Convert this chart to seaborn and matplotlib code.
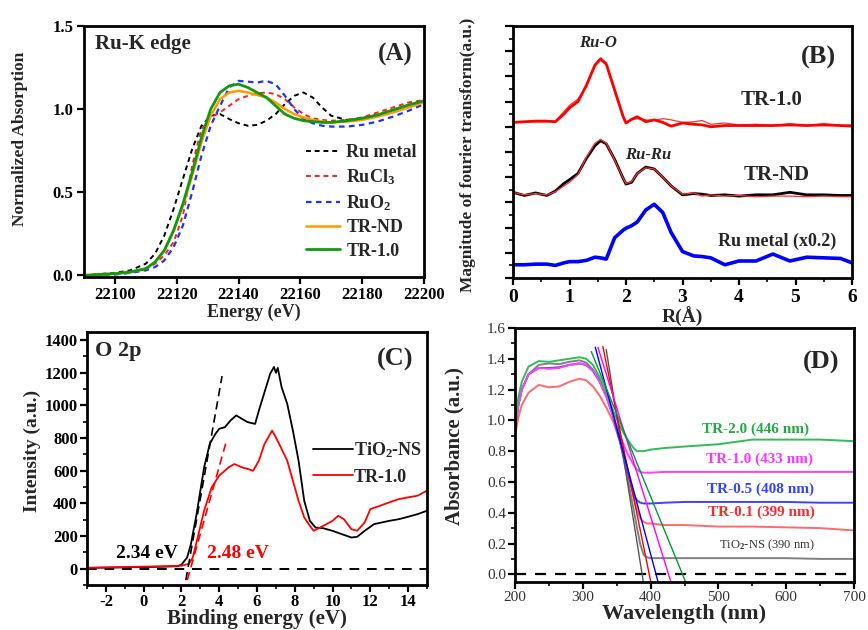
import numpy as np
import matplotlib
matplotlib.use("Agg")
import matplotlib.pyplot as plt
import seaborn as sns
from matplotlib.ticker import MultipleLocator, NullFormatter

# ---------------- (A) Ru K-edge XANES ----------------
energy = [22090, 22100, 22105, 22110, 22113, 22116, 22119, 22122, 22125, 22128,
          22131, 22134, 22137, 22140, 22143, 22146, 22149, 22152, 22155, 22158,
          22161, 22164, 22167, 22170, 22175, 22180, 22185, 22190, 22195, 22200]
ru_metal = [0.0, 0.015, 0.03, 0.07, 0.13, 0.24, 0.4, 0.58, 0.76, 0.9,
            0.96, 0.97, 0.94, 0.915, 0.9, 0.905, 0.93, 0.97, 1.03, 1.08,
            1.1, 1.07, 1.01, 0.96, 0.935, 0.945, 0.965, 0.995, 1.025, 1.05]
rucl3 = [0.0, 0.01, 0.02, 0.04, 0.07, 0.12, 0.2, 0.36, 0.66, 0.88,
         0.95, 0.98, 1.02, 1.06, 1.08, 1.095, 1.1, 1.09, 1.06, 1.01,
         0.97, 0.945, 0.935, 0.93, 0.935, 0.95, 0.98, 1.01, 1.04, 1.055]
ruo2 = [0.0, 0.005, 0.015, 0.03, 0.05, 0.09, 0.17, 0.3, 0.5, 0.72,
        0.9, 1.02, 1.13, 1.17, 1.165, 1.16, 1.17, 1.15, 1.08, 1.0,
        0.94, 0.915, 0.9, 0.895, 0.895, 0.905, 0.925, 0.955, 0.99, 1.03]
tr_nd = [0.0, 0.01, 0.02, 0.04, 0.08, 0.15, 0.27, 0.42, 0.6, 0.8,
         0.96, 1.06, 1.1, 1.11, 1.1, 1.085, 1.07, 1.04, 1.0, 0.97,
         0.95, 0.935, 0.925, 0.92, 0.925, 0.935, 0.955, 0.98, 1.01, 1.04]
tr_10 = [0.0, 0.01, 0.02, 0.04, 0.08, 0.15, 0.27, 0.43, 0.62, 0.83,
         1.0, 1.1, 1.14, 1.15, 1.13, 1.1, 1.07, 1.02, 0.97, 0.945,
         0.93, 0.925, 0.92, 0.92, 0.93, 0.945, 0.965, 0.995, 1.025, 1.05]

# ---------------- (B) EXAFS FT ----------------
r_dist = [0, 0.2, 0.4, 0.6, 0.75, 0.9, 1.0, 1.15, 1.3, 1.45, 1.55, 1.65, 1.8, 1.95,
          2.0, 2.1, 2.2, 2.35, 2.5, 2.65, 2.8, 3.0, 3.2, 3.35, 3.5, 3.75, 4.0, 4.3,
          4.6, 4.9, 5.2, 5.5, 5.8, 6.0]
ft_tr10 = [12.35, 12.4, 12.45, 12.45, 12.4, 13.0, 13.5, 14.0, 15.3, 16.9, 17.4, 17.0, 14.9, 12.8,
           12.3, 12.6, 12.8, 12.4, 12.55, 12.35, 12.05, 12.3, 12.2, 12.15, 12.0, 12.1, 12.1, 12.1,
           12.1, 12.15, 12.1, 12.15, 12.1, 12.05]
fit_tr10 = [12.35, 12.4, 12.4, 12.4, 12.45, 13.2, 13.7, 14.2, 15.2, 16.8, 17.3, 16.9, 14.8, 12.75,
            12.4, 12.55, 12.65, 12.55, 12.5, 12.65, 12.55, 12.35, 12.4, 12.5, 12.2, 12.3, 12.15, 12.2,
            12.1, 12.25, 12.1, 12.25, 12.1, 12.15]
ft_trnd = [6.8, 6.55, 6.75, 6.55, 6.9, 7.5, 7.8, 8.3, 9.5, 10.5, 10.9, 10.65, 9.4, 7.9,
           7.45, 7.6, 8.3, 8.8, 8.65, 8.0, 7.3, 6.6, 6.7, 6.65, 6.55, 6.6, 6.5, 6.6,
           6.6, 6.8, 6.6, 6.6, 6.55, 6.55]
fit_trnd = [6.8, 6.6, 6.7, 6.6, 6.85, 7.3, 7.6, 8.2, 9.6, 10.7, 11.0, 10.7, 9.35, 7.9,
            7.5, 7.65, 8.3, 8.75, 8.65, 8.0, 7.3, 6.65, 6.75, 6.5, 6.6, 6.5, 6.55, 6.45,
            6.5, 6.5, 6.45, 6.5, 6.45, 6.45]
ft_rumetal = [1.05, 1.05, 1.1, 1.1, 1.0, 1.2, 1.3, 1.3, 1.4, 1.65, 1.6, 1.5, 3.2, 3.8,
              3.95, 4.15, 4.45, 5.4, 5.85, 5.2, 3.6, 2.1, 1.75, 1.7, 1.6, 1.05, 1.35, 1.35,
              1.9, 1.35, 1.65, 1.6, 1.55, 1.2]

# ---------------- (C) O 2p valence band ----------------
be_tio2 = [-3, -1, 1, 1.8, 2.0, 2.3, 2.5, 2.8, 3.2, 3.5, 3.8, 4.0, 4.3, 4.6, 4.9, 5.2, 5.5,
           5.9, 6.1, 6.4, 6.7, 6.9, 7.0, 7.1, 7.3, 7.6, 7.9, 8.2, 8.5, 8.8, 9.1, 9.5, 10.0,
           10.5, 11.0, 11.3, 11.7, 12.2, 13.0, 13.5, 14.0, 14.5, 15.0]
int_tio2 = [5, 8, 12, 15, 25, 68, 150, 334, 620, 765, 826, 857, 867, 908, 939, 918, 898,
            887, 969, 1082, 1195, 1236, 1200, 1230, 1113, 1010, 846, 662, 416, 293, 252, 248, 232,
            211, 191, 195, 232, 273, 293, 303, 318, 334, 355]
be_tr10 = [-3, -1, 1, 2.0, 2.4, 2.6, 2.9, 3.2, 3.6, 4.0, 4.5, 4.8, 5.2, 5.5, 5.8, 6.1, 6.4,
           6.8, 7.0, 7.3, 7.6, 7.9, 8.2, 8.5, 8.8, 9.0, 9.5, 10.0, 10.3, 10.6, 11.0, 11.3,
           11.7, 12.0, 12.5, 13.0, 13.5, 14.0, 14.5, 15.0]
int_tr10 = [5, 10, 15, 18, 30, 68, 211, 355, 498, 570, 621, 641, 621, 611, 600, 662, 765,
            846, 805, 734, 662, 539, 416, 314, 262, 232, 262, 293, 324, 303, 242, 232,
            283, 365, 385, 406, 426, 437, 447, 478]
vb_onset = [2.34, 2.48]
vb_tangent_x = [4.15, 4.4]
vb_tangent_y = [1180, 790]

# ---------------- (D) UV-vis ----------------
wavelength = [200, 205, 210, 220, 235, 250, 265, 280, 295, 305, 315, 325, 335, 345, 355,
              365, 375, 380, 385, 390, 395, 400, 420, 450, 500, 550, 600, 650, 700]
abs_tio2 = [0.95, 1.1, 1.2, 1.3, 1.36, 1.37, 1.365, 1.38, 1.39, 1.375, 1.33, 1.26, 1.16, 1.03, 0.86,
            0.65, 0.42, 0.3, 0.19, 0.125, 0.11, 0.105, 0.105, 0.105, 0.105, 0.105, 0.105, 0.1, 0.1]
abs_tr01 = [0.9, 1.02, 1.1, 1.18, 1.23, 1.215, 1.22, 1.25, 1.27, 1.26, 1.22, 1.16, 1.08, 0.99, 0.86,
            0.69, 0.5, 0.42, 0.36, 0.34, 0.33, 0.33, 0.32, 0.32, 0.31, 0.31, 0.305, 0.3, 0.285]
abs_tr05 = [0.95, 1.1, 1.2, 1.3, 1.34, 1.34, 1.345, 1.36, 1.37, 1.36, 1.32, 1.25, 1.15, 1.02, 0.86,
            0.68, 0.52, 0.48, 0.465, 0.46, 0.46, 0.46, 0.465, 0.47, 0.47, 0.47, 0.47, 0.465, 0.465]
abs_tr10 = [0.95, 1.1, 1.2, 1.3, 1.34, 1.335, 1.34, 1.36, 1.37, 1.36, 1.32, 1.25, 1.15, 1.03, 0.9,
            0.79, 0.71, 0.68, 0.665, 0.66, 0.66, 0.66, 0.665, 0.665, 0.665, 0.665, 0.665, 0.665, 0.665]
abs_tr20 = [0.97, 1.15, 1.25, 1.35, 1.385, 1.38, 1.39, 1.4, 1.41, 1.4, 1.36, 1.28, 1.18, 1.06, 0.96,
            0.88, 0.82, 0.8, 0.8, 0.8, 0.805, 0.81, 0.82, 0.83, 0.845, 0.875, 0.875, 0.875, 0.865]
uv_labels = ["TiO$_2$-NS (390 nm)", "TR-0.1 (399 nm)", "TR-0.5 (408 nm)",
             "TR-1.0 (433 nm)", "TR-2.0 (446 nm)"]
uv_edge = [387.5, 398, 408, 426.5, 447]
uv_top_x = [334.5, 329.6, 318.4, 322.3, 312.5]
uv_top_y = [1.46, 1.48, 1.475, 1.475, 1.447]
label_x = [572, 564, 562, 560, 554]
label_y = [0.19, 0.40, 0.55, 0.75, 0.945]

# ---------------- style ----------------
sns.set_style("ticks")
plt.rcParams['font.family'] = ['Liberation Serif', 'DejaVu Serif']
plt.rcParams['font.weight'] = 'bold'
plt.rcParams['axes.labelweight'] = 'bold'
plt.rcParams['axes.unicode_minus'] = False
plt.rcParams['mathtext.fontset'] = 'custom'
plt.rcParams['mathtext.rm'] = 'Liberation Serif:bold'
plt.rcParams['mathtext.it'] = 'Liberation Serif:italic:bold'
plt.rcParams['mathtext.bf'] = 'Liberation Serif:bold'

W, H = 868, 630
fig = plt.figure(figsize=(W / 100, H / 100), dpi=100)


def box(l, t, r, b):
    return [l / W, 1 - b / H, (r - l) / W, (b - t) / H]


def style_ax(ax, size, pad=3):
    for s in ax.spines.values():
        s.set_linewidth(2)
        s.set_color('black')
    ax.tick_params(which='major', direction='out', length=5, width=1.6, labelsize=size,
                   top=False, right=False, colors='black', pad=pad)
    ax.tick_params(which='minor', direction='out', length=3, width=1.4, top=False, right=False)


def line(ax, x, y, color, lw=1.5, ls='-', label=None):
    sns.lineplot(x=x, y=y, ax=ax, color=color, linewidth=lw, linestyle=ls,
                 estimator=None, sort=False, label=label, legend=False)


# ---- A ----
axA = fig.add_axes(box(84, 26, 424, 277))
line(axA, energy, ru_metal, 'black', 1.4, (0, (2.5, 2)), 'Ru metal')
line(axA, energy, rucl3, '#ff2020', 1.4, (0, (2.5, 2)), 'RuCl$_3$')
line(axA, energy, ruo2, '#2030ff', 1.6, (0, (2.5, 2)), 'RuO$_2$')
line(axA, energy, tr_nd, '#ff9900', 1.8, '-', 'TR-ND')
line(axA, energy, tr_10, '#119911', 2.0, '-', 'TR-1.0')
axA.set_xlim(22090, 22200)
axA.set_ylim(-0.01, 1.5)
axA.xaxis.set_major_locator(MultipleLocator(20))
axA.yaxis.set_major_locator(MultipleLocator(0.5))
axA.yaxis.set_major_formatter(matplotlib.ticker.FormatStrFormatter('%.1f'))
style_ax(axA, 12, pad=2.5)
axA.set_xlabel("Energy (eV)", fontsize=13)
axA.set_ylabel("Normalized Absorption", fontsize=12.5)
axA.xaxis.set_label_coords(0.5, -0.105)
axA.yaxis.set_label_coords(-0.165, 0.55)
axA.text(0.033, 0.93, "Ru-K edge", transform=axA.transAxes, fontsize=15, va='center')
axA.text(0.915, 0.887, "(A)", transform=axA.transAxes, fontsize=18, ha='center', va='center')
axA.legend(loc='lower right', bbox_to_anchor=(1.0, 0.04), frameon=False, fontsize=13,
           handlelength=1.9, handletextpad=0.35, labelspacing=0.35, borderaxespad=0)

# ---- B ----
axB = fig.add_axes(box(513, 26, 852, 278))
line(axB, r_dist, fit_tr10, '#ff3030', 0.9)
line(axB, r_dist, ft_tr10, '#ff0000', 2.0)
line(axB, r_dist, ft_trnd, 'black', 2.0)
line(axB, r_dist, fit_trnd, '#ff3030', 0.9)
line(axB, r_dist, ft_rumetal, '#0000ff', 2.6)
axB.set_xlim(0, 6)
axB.set_ylim(0, 20)
axB.xaxis.set_major_locator(MultipleLocator(1))
axB.xaxis.set_minor_locator(MultipleLocator(0.5))
axB.yaxis.set_major_locator(MultipleLocator(2))
axB.yaxis.set_minor_locator(MultipleLocator(1))
axB.yaxis.set_major_formatter(NullFormatter())
style_ax(axB, 14)
axB.tick_params(axis='y', which='major', length=6)
axB.set_xlabel("R(Å)", fontsize=14)
axB.set_ylabel("Magnitude of fourier transform(a.u.)", fontsize=12.5)
axB.xaxis.set_label_coords(0.5, -0.115)
axB.yaxis.set_label_coords(-0.11, 0.49)
axB.text(1.5, 18.65, "Ru-O", fontsize=12, style='italic', ha='center', va='center')
axB.text(2.39, 9.8, "Ru-Ru", fontsize=12, style='italic', ha='center', va='center')
axB.text(4.58, 14.1, "TR-1.0", fontsize=15, ha='center', va='center')
axB.text(4.67, 8.2, "TR-ND", fontsize=15, ha='center', va='center')
axB.text(4.67, 2.9, "Ru metal (x0.2)", fontsize=13, ha='center', va='center')
axB.text(0.9, 0.874, "(B)", transform=axB.transAxes, fontsize=19, ha='center', va='center')

# ---- C ----
axC = fig.add_axes(box(87, 332, 427, 585))
axC.axhline(0, color='black', lw=1.4, ls=(0, (5, 4)))
line(axC, be_tio2, int_tio2, 'black', 1.3, '-', 'TiO$_2$-NS')
line(axC, be_tr10, int_tr10, '#ff0000', 1.3, '-', 'TR-1.0')
for on, tx, ty, col in zip(vb_onset, vb_tangent_x, vb_tangent_y, ['black', '#ff0000']):
    slope = ty / (tx - on)
    xs = [on - 70 / slope, tx]
    ys = [-70, ty]
    line(axC, xs, ys, col, 1.2, (0, (5, 3)))
axC.set_xlim(-3, 15)
axC.set_ylim(-100, 1450)
axC.xaxis.set_major_locator(MultipleLocator(2))
axC.xaxis.set_minor_locator(MultipleLocator(1))
axC.yaxis.set_major_locator(MultipleLocator(200))
axC.yaxis.set_minor_locator(MultipleLocator(100))
style_ax(axC, 12, pad=1.5)
axC.set_xlabel("Binding energy (eV)", fontsize=15)
axC.set_ylabel("Intensity (a.u.)", fontsize=14)
axC.xaxis.set_label_coords(0.5, -0.095)
axC.yaxis.set_label_coords(-0.135, 0.53)
axC.text(0.024, 0.925, "O 2p", transform=axC.transAxes, fontsize=16, va='center')
axC.text(0.906, 0.89, "(C)", transform=axC.transAxes, fontsize=19, ha='center', va='center')
axC.text(0.16, 92, "2.34 eV", fontsize=14, color='black', ha='center', va='center')
axC.text(5.0, 92, "2.48 eV", fontsize=14, color='#ff0000', ha='center', va='center')
hc = [axC.lines[1], axC.lines[2]]
axC.legend(hc, ['TiO$_2$-NS', 'TR-1.0'], loc='upper left', bbox_to_anchor=(0.665, 0.57),
           frameon=False, fontsize=13, handlelength=2.2, handletextpad=0.05,
           labelspacing=0.45, borderaxespad=0, borderpad=0)

# ---- D ----
axD = fig.add_axes(box(515, 328, 854, 582))
axD.patch.set_alpha(0)
axD.axhline(0, color='black', lw=1.6, ls=(0, (5, 4)))
curve_cols = ['#808080', '#ff6a6a', '#4040ff', '#ff40ff', '#33bb55']
tan_cols = ['#555555', '#ff0000', '#0000ff', '#ff00ff', '#009933']
text_cols = ['#333333', '#ff2a2a', '#3344ff', '#ff33ff', '#22aa44']
for ys, col in zip([abs_tio2, abs_tr01, abs_tr05, abs_tr10, abs_tr20], curve_cols):
    line(axD, wavelength, ys, col, 1.4)
for e, tx, ty, col in zip(uv_edge, uv_top_x, uv_top_y, tan_cols):
    slope = ty / (tx - e)
    line(axD, [tx, e - 0.06 / slope], [ty, -0.06], col, 1.0)
for lab, lx, ly, col in zip(uv_labels, label_x, label_y, text_cols):
    fs = 9 if lab.startswith('TiO') else 11
    axD.text(lx, ly, lab, fontsize=fs, color=col, ha='center', va='center',
             fontweight='normal' if lab.startswith('TiO') else 'bold')
axD.set_xlim(200, 700)
axD.set_ylim(-0.05, 1.6)
axD.xaxis.set_major_locator(MultipleLocator(100))
axD.xaxis.set_minor_locator(MultipleLocator(50))
axD.yaxis.set_major_locator(MultipleLocator(0.2))
axD.yaxis.set_minor_locator(MultipleLocator(0.1))
axD.yaxis.set_major_formatter(matplotlib.ticker.FormatStrFormatter('%.1f'))
style_ax(axD, 11, pad=1.5)
for t in axD.get_xticklabels() + axD.get_yticklabels():
    t.set_fontweight('normal')
    t.set_color('#333333')
axD.set_xlabel("Wavelength (nm)", fontsize=16)
axD.set_ylabel("Absorbance (a.u.)", fontsize=15)
axD.xaxis.set_label_coords(0.5, -0.085)
axD.yaxis.set_label_coords(-0.15, 0.535)
axD.text(0.903, 0.866, "(D)", transform=axD.transAxes, fontsize=19, ha='center', va='center')

fig.savefig("out.png", dpi=100)
